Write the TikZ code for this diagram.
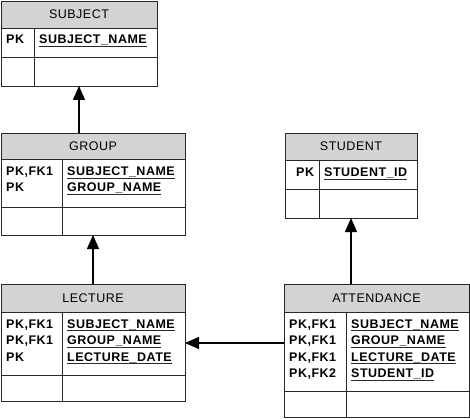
\documentclass[tikz,border=0pt]{standalone}
\usepackage{fontspec}
\setmainfont{Liberation Sans}
\usetikzlibrary{arrows.meta}
\definecolor{headgray}{RGB}{211,211,211}
\definecolor{rulegray}{RGB}{40,40,40}
\begin{document}
\begin{tikzpicture}[x=1pt, y=-1pt,
    entity/.style={draw=rulegray, line width=0.9pt},
    header/.style={fill=headgray, draw=rulegray, line width=0.9pt},
    title/.style={font=\fontsize{12.5}{14}\selectfont\addfontfeature{LetterSpace=4}, inner sep=0},
    field/.style={font=\fontsize{12.5}{14}\selectfont\bfseries\addfontfeature{LetterSpace=4}, inner sep=0, anchor=base west},
    uline/.style={line width=0.9pt, rulegray},
    fk/.style={-{Triangle[width=12pt,length=14pt]}, line width=1.3pt}]
    \useasboundingbox (0,0) rectangle (470,419);

    % SUBJECT
    \draw[header] (1,1) rectangle (157,28);
    \draw[entity] (1,28) rectangle (157,86);
    \draw[entity] (1,57) -- (157,57) (34,28) -- (34,86);
    \node[title] (sub-t) at (79,14.5) {SUBJECT};
    \node[field] (sub-k1) at (6,44) {PK};
    \node[field] (sub-a1) at (39,44) {SUBJECT\_NAME};
    \coordinate (subject-s) at (79,86);

    % GROUP
    \draw[header] (1,133) rectangle (185,159);
    \draw[entity] (1,159) rectangle (185,235);
    \draw[entity] (1,207) -- (185,207) (62,159) -- (62,235);
    \node[title] (grp-t) at (93,146) {GROUP};
    \node[field] (grp-k1) at (6,176) {PK,FK1};
    \node[field] (grp-k2) at (6,192) {PK};
    \node[field] (grp-a1) at (67,176) {SUBJECT\_NAME};
    \node[field] (grp-a2) at (67,192) {GROUP\_NAME};
    \coordinate (group-n) at (79,133);
    \coordinate (group-s) at (93,235);

    % LECTURE
    \draw[header] (1,284) rectangle (185,312);
    \draw[entity] (1,312) rectangle (185,401);
    \draw[entity] (1,375) -- (185,375) (62,312) -- (62,401);
    \node[title] (lec-t) at (93,298) {LECTURE};
    \node[field] (lec-k1) at (6,328) {PK,FK1};
    \node[field] (lec-k2) at (6,344.5) {PK,FK1};
    \node[field] (lec-k3) at (6,361) {PK};
    \node[field] (lec-a1) at (67,328) {SUBJECT\_NAME};
    \node[field] (lec-a2) at (67,344.5) {GROUP\_NAME};
    \node[field] (lec-a3) at (67,361) {LECTURE\_DATE};
    \coordinate (lecture-n) at (93,284);
    \coordinate (lecture-e) at (185,343);

    % STUDENT
    \draw[header] (285,133) rectangle (417,160);
    \draw[entity] (285,160) rectangle (417,218);
    \draw[entity] (285,189) -- (417,189) (319,160) -- (319,218);
    \node[title] (stu-t) at (351,146.5) {STUDENT};
    \node[field] (stu-k1) at (296,177) {PK};
    \node[field] (stu-a1) at (324,177) {STUDENT\_ID};
    \coordinate (student-s) at (351,218);

    % ATTENDANCE
    \draw[header] (284,284) rectangle (469,312);
    \draw[entity] (284,312) rectangle (469,417);
    \draw[entity] (284,391) -- (469,391) (346,312) -- (346,417);
    \node[title] (att-t) at (376.5,298) {ATTENDANCE};
    \node[field] (att-k1) at (289,328) {PK,FK1};
    \node[field] (att-k2) at (289,344.5) {PK,FK1};
    \node[field] (att-k3) at (289,361) {PK,FK1};
    \node[field] (att-k4) at (289,377.5) {PK,FK2};
    \node[field] (att-a1) at (351,328) {SUBJECT\_NAME};
    \node[field] (att-a2) at (351,344.5) {GROUP\_NAME};
    \node[field] (att-a3) at (351,361) {LECTURE\_DATE};
    \node[field] (att-a4) at (351,377.5) {STUDENT\_ID};
    \coordinate (attendance-n) at (351,284);
    \coordinate (attendance-w) at (284,343);

    % Key underlines
    \foreach \n in {sub-a1, grp-a1, grp-a2, lec-a1, lec-a2, lec-a3,
                    stu-a1, att-a1, att-a2, att-a3, att-a4}
        \draw[uline] ([yshift=-2.5pt]\n.base west) -- ([yshift=-2.5pt]\n.base east);

    % Relationships
    \draw[fk] (group-n) -- (subject-s);
    \draw[fk] (lecture-n) -- (group-s);
    \draw[fk] (attendance-n) -- (student-s);
    \draw[fk] (attendance-w) -- (lecture-e);
\end{tikzpicture}
\end{document}
